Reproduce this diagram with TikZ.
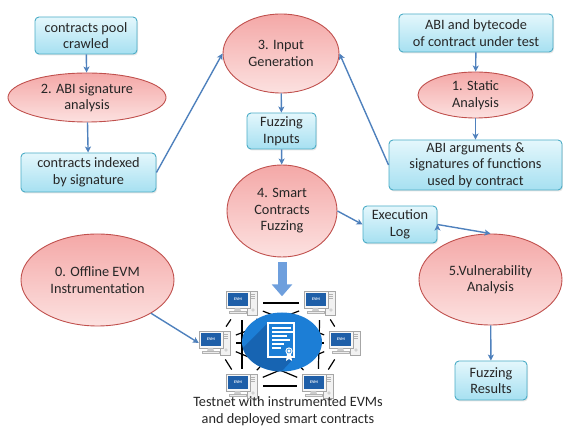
\documentclass[tikz,border=0pt]{standalone}
\usepackage{fontspec}
\setmainfont{Carlito}
\usetikzlibrary{shapes.geometric,arrows.meta,shadows}

\definecolor{boxline}{HTML}{4BACC6}
\definecolor{boxtop}{HTML}{E4F7FC}
\definecolor{boxbot}{HTML}{A6E0F1}
\definecolor{ovalline}{HTML}{C0504D}
\definecolor{ovaltop}{HTML}{F4A8A7}
\definecolor{ovalbot}{HTML}{FCE1E0}
\definecolor{flow}{HTML}{4F81BD}
\definecolor{pushblue}{HTML}{6E9FDD}
\definecolor{netblue}{HTML}{1C7ED6}
\definecolor{netshade}{HTML}{1764B2}
\definecolor{screen}{HTML}{1F5FA8}

\tikzset{
  every node/.style={font=\fontsize{14.3}{16.5}\selectfont, text=black!85, align=center},
  block/.style={rectangle, rounded corners=4pt, draw=boxline, line width=0.9pt,
    top color=boxtop, bottom color=boxbot, inner sep=0pt,
    drop shadow={shadow xshift=1pt, shadow yshift=-1.5pt, opacity=0.2}},
  oval/.style={ellipse, draw=ovalline, line width=0.9pt,
    top color=ovaltop, bottom color=ovalbot, inner sep=0pt},
  link/.style={draw=flow, line width=1.4pt, -{Stealth[length=6pt,width=6pt,inset=1.5pt]}},
  mesh/.style={draw=black, line width=1.2pt, shorten <=5pt, shorten >=5pt},
  pcbox/.style={rectangle, minimum width=32pt, minimum height=24pt, inner sep=0pt},
  evm/.pic={
    % tower
    \draw[gray!70, fill=gray!10, line width=0.4pt] (5pt,-12pt) rectangle (15pt,12pt);
    \foreach \h in {9,7,5} \draw[gray!60, line width=0.4pt] (7pt,\h pt) -- (13pt,\h pt);
    \draw[gray!60, line width=0.4pt] (11pt,-7pt) circle (1.4pt);
    % monitor
    \draw[gray!70, fill=gray!6, line width=0.4pt] (-16pt,-5pt) rectangle (8pt,12pt);
    \fill[screen] (-14pt,-3pt) rectangle (6pt,10pt);
    \node[font=\fontsize{4}{4}\selectfont\bfseries, text=white, inner sep=0pt] at (-4pt,3.5pt) {EVM};
    \fill[gray!40] (-7pt,-5pt) -- (-2pt,-5pt) -- (-1pt,-8pt) -- (-8pt,-8pt) -- cycle;
    \draw[gray!60, fill=gray!15, line width=0.4pt] (-13pt,-10pt) rectangle (4pt,-8pt);
  }
}

\begin{document}
\begin{tikzpicture}[x=1pt,y=-1pt]
\useasboundingbox (0,0) rectangle (563,427);

% left column
\node[block, minimum width=102pt, minimum height=37pt] (pool) at (86,35.5) {contracts pool\\crawled};
\node[oval, minimum width=158pt, minimum height=49pt] (sig) at (87,97.5) {2. ABI signature\\analysis};
\node[block, minimum width=135pt, minimum height=39pt] (idx) at (88.5,172.5) {contracts indexed\\by signature};

% middle column
\node[oval, minimum width=116pt, minimum height=79pt] (gen) at (281,53.5) {3. Input\\Generation};
\node[block, minimum width=69pt, minimum height=36pt] (inputs) at (281.5,131) {Fuzzing\\Inputs};
\node[oval, minimum width=110pt, minimum height=92pt] (fuzz) at (282,211) {4. Smart\\Contracts\\Fuzzing};

% right column
\node[block, minimum width=154pt, minimum height=38pt] (code) at (476,33) {ABI and bytecode\\of contract under test};
\node[oval, minimum width=115pt, minimum height=46pt] (static) at (475.5,95) {1. Static\\Analysis};
\node[block, minimum width=173pt, minimum height=50pt] (args) at (475.5,165) {ABI arguments \&\\signatures of functions\\used by contract};

\node[block, minimum width=74pt, minimum height=37pt] (log) at (400,224.5) {Execution\\Log};
\node[oval, minimum width=143pt, minimum height=91pt] (vuln) at (490.5,279.5) {5.Vulnerability\\Analysis};
\node[block, minimum width=72pt, minimum height=39pt] (results) at (491,380.5) {Fuzzing\\Results};

\node[oval, minimum width=153pt, minimum height=92pt] (offline) at (97.5,280) {0. Offline EVM\\Instrumentation};

% testnet
\node[pcbox] (pctl) at (242,303) {};
\node[pcbox] (pctr) at (320,303) {};
\node[pcbox] (pcl) at (215,343) {};
\node[pcbox] (pcr) at (345,343) {};
\node[pcbox] (pcbl) at (242,386) {};
\node[pcbox] (pcbr) at (318,386) {};

\foreach \a/\b in {pctl/pctr,pctl/pcl,pctl/pcr,pctl/pcbl,pctl/pcbr,
                   pctr/pcl,pctr/pcr,pctr/pcbl,pctr/pcbr,
                   pcl/pcr,pcl/pcbl,pcl/pcbr,pcr/pcbl,pcr/pcbr,pcbl/pcbr}
  \path[mesh] (\a) -- (\b);

\node[ellipse, fill=netblue, minimum width=80pt, minimum height=59pt, inner sep=0pt] (net) at (282,342) {};
\begin{scope}
\clip (net.center) ellipse (40pt and 29.5pt);
\fill[netshade] (268,323) -- (228,363) -- (228,400) -- (255,400) -- (295,357) -- (268,357) -- cycle;
\end{scope}
\draw[white, line width=1.3pt, fill=netblue] (268,323) rectangle (294,357);
\foreach \y/\l in {328/19,332/21,336/15,340/18,344/12,348/9}
  \draw[white, line width=1.5pt] (272,\y) -- ++(\l,0);
\fill[white] (289,351) circle (3.6pt);
\fill[white] (287,354) -- (286,361) -- (289,359) -- (292,361) -- (291,354) -- cycle;
\draw[netblue, line width=0.6pt] (289,351) circle (2pt);

\foreach \n in {pctl,pctr,pcl,pcr,pcbl,pcbr}
  \pic at (\n) {evm};

\node (testnet) at (288,411) {Testnet with instrumented EVMs\\and deployed smart contracts};

% connectors
\path[link]
(pool) edge (sig)
(sig) edge (idx)
(idx.east) edge (gen.west)
(gen) edge (inputs)
(inputs) edge (fuzz)
(code) edge (static)
(static) edge (args)
(args.west) edge (gen.east)
(fuzz.east) edge (log.west)
(log.east) edge (vuln.north)
(vuln) edge (results)
(offline) edge (pcl.west);

\draw[pushblue, line width=9pt, -{Triangle[length=12pt,width=20pt]}, shorten <=5pt, shorten >=16pt] (fuzz) -- (net);

\end{tikzpicture}
\end{document}
